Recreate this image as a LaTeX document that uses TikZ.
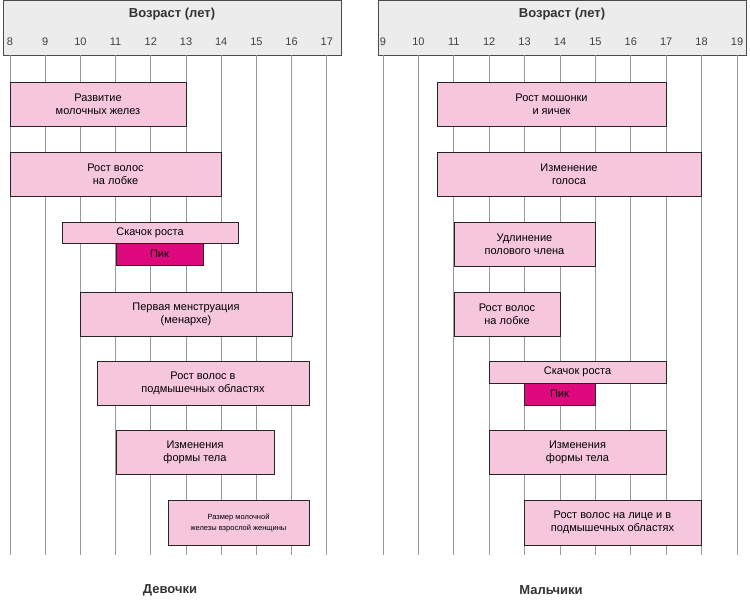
\documentclass[tikz,border=0pt]{standalone}
\usepackage{fontspec}
\setmainfont{Liberation Sans}
\usetikzlibrary{positioning}
\definecolor{barpink}{RGB}{246,198,220}
\definecolor{peakpink}{RGB}{222,10,125}
\definecolor{headgray}{RGB}{236,236,236}
\tikzstyle{head}=[draw=black!70, fill=headgray, line width=0.8pt]
\tikzstyle{grid}=[draw=black!40, line width=1pt]
\tikzstyle{bar}=[draw=black!85, fill=barpink, line width=0.9pt, inner sep=0, align=center,
		font=\fontsize{11}{13}\selectfont]
\tikzstyle{peak}=[bar, fill=peakpink]
\tikzstyle{tick}=[font=\fontsize{11}{12}\selectfont, text=black!75]
\tikzstyle{title}=[font=\bfseries\fontsize{13}{14}\selectfont, text=black!80]

\begin{document}
\begin{tikzpicture}[x=1pt, y=-1pt]
        \useasboundingbox (0,0) rectangle (750,603);
        % headers
        \path[head] (3,0) rectangle (341,55);
        \path[head] (378,0) rectangle (746,55);
        \node[title] (hg) at (172,14) {Возраст (лет)};
        \node[title] (hb) at (562,14) {Возраст (лет)};
        % age scales
        \foreach \a in {8,...,17} {
            \pgfmathsetmacro{\xx}{10+(\a-8)*35.2}
            \node[tick] (g\a) at (\xx,42) {\a};
            \draw[grid] (\xx,55) -- (\xx,555);
        }
        \foreach \a in {9,...,19} {
            \pgfmathsetmacro{\xx}{383+(\a-9)*35.4}
            \node[tick] (b\a) at (\xx,42) {\a};
            \draw[grid] (\xx,55) -- (\xx,555);
        }
        % girls
        \node[bar, minimum width=176, minimum height=44] (gbreast) at (98,104) {Развитие\\молочных желез};
        \node[bar, minimum width=211, minimum height=44] (ghair) at (115.5,174) {Рост волос\\на лобке};
        \node[bar, minimum width=176, minimum height=21] (gspurt) at (150,232.5) {Скачок роста};
        \node[peak, minimum width=87, minimum height=22] (gpeak) at (159.5,254) {Пик};
        \node[bar, minimum width=212, minimum height=44] (gmens) at (186,314) {Первая менструация\\(менархе)};
        \node[bar, minimum width=212, minimum height=44] (gaxil) at (203,383) {Рост волос в\\подмышечных областях};
        \node[bar, minimum width=158, minimum height=44] (gbody) at (195,452) {Изменения\\формы тела};
        \node[bar, minimum width=141, minimum height=45, font=\fontsize{7.5}{11}\selectfont] (gsize) at (238.5,522.5) {Размер молочной\\железы взрослой женщины};
        % boys
        \node[bar, minimum width=229, minimum height=44] (bscrot) at (551.5,104) {Рост мошонки\\и яичек};
        \node[bar, minimum width=264, minimum height=44] (bvoice) at (569,174) {Изменение\\голоса};
        \node[bar, minimum width=141, minimum height=44] (bpenis) at (524.5,244) {Удлинение\\полового члена};
        \node[bar, minimum width=106, minimum height=44] (bhair) at (507,314) {Рост волос\\на лобке};
        \node[bar, minimum width=177, minimum height=22] (bspurt) at (577.5,372) {Скачок роста};
        \node[peak, minimum width=71, minimum height=22] (bpeak) at (559.5,394) {Пик};
        \node[bar, minimum width=177, minimum height=44] (bbody) at (577.5,452) {Изменения\\формы тела};
        \node[bar, minimum width=177, minimum height=45] (bface) at (612.5,522.5) {Рост волос на лице и в\\подмышечных областях};
        % captions
        \node[title] (girls) at (170,590) {Девочки};
        \node[title] (boys) at (551,590) {Мальчики};
    \end{tikzpicture}
\end{document}
